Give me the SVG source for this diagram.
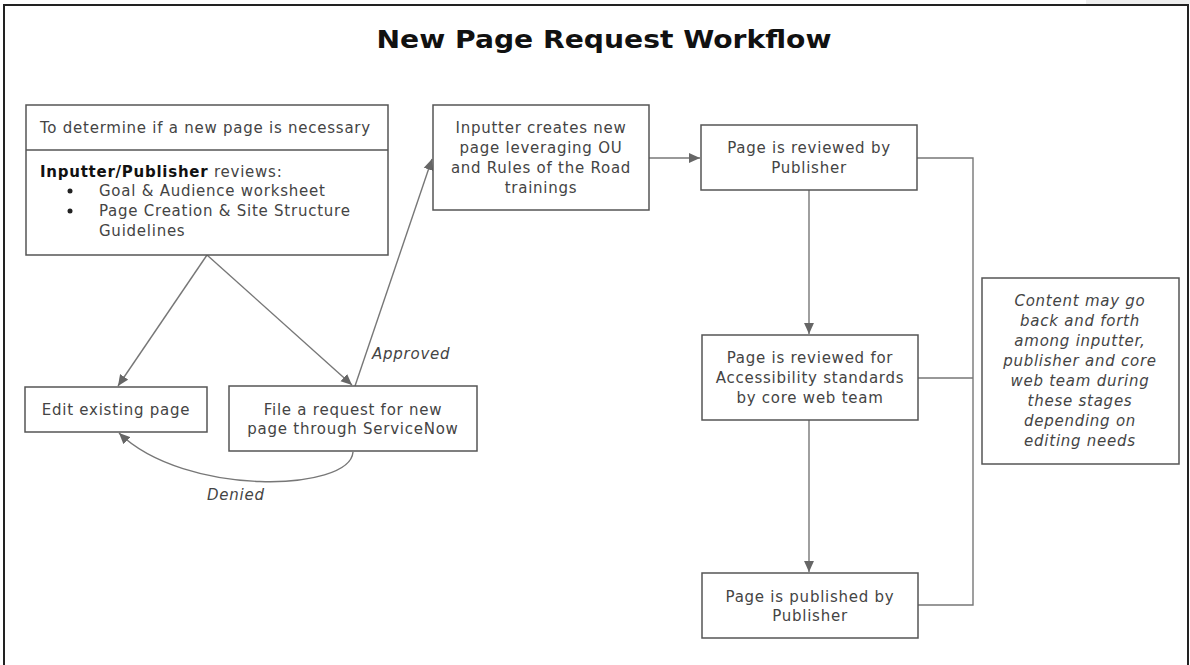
<svg xmlns="http://www.w3.org/2000/svg" width="1190" height="665" viewBox="0 0 1190 665">
<defs>
<style>
.box{fill:#fff;stroke:#555;stroke-width:1.5}
.t{font-family:"DejaVu Sans","Liberation Sans",sans-serif;font-size:15px;fill:#444;letter-spacing:0.75px}
.c{text-anchor:middle}
.i{font-style:italic}
.conn{fill:none;stroke:#777;stroke-width:1.4}
.arr{marker-end:url(#ah)}
</style>
<marker id="ah" viewBox="0 0 10 10" refX="10" refY="5" markerWidth="11" markerHeight="11" markerUnits="userSpaceOnUse" orient="auto">
<path d="M0,0.5 L10,5 L0,9.5 Z" fill="#666"/>
</marker>
</defs>
<rect x="0" y="0" width="1190" height="665" fill="#fff"/>
<rect x="1086" y="0" width="104" height="4" fill="#eee"/>
<path d="M4,666 V5 H1188 V666" fill="none" stroke="#222" stroke-width="2"/>
<text x="604" y="48" text-anchor="middle" font-family="DejaVu Sans, Liberation Sans, sans-serif" font-weight="bold" font-size="25" fill="#111" textLength="455" lengthAdjust="spacingAndGlyphs">New Page Request Workflow</text>

<g id="connectors">
<line class="conn arr" x1="207" y1="255" x2="118" y2="386"/>
<line class="conn arr" x1="207" y1="255" x2="352" y2="385"/>
<line class="conn arr" x1="355" y1="386" x2="432" y2="159"/>
<line class="conn arr" x1="649" y1="158" x2="700" y2="158"/>
<line class="conn arr" x1="809" y1="190" x2="809" y2="334"/>
<line class="conn arr" x1="809" y1="420" x2="809" y2="572"/>
<path class="conn arr" d="M353,452 C350,492 185,497 119,433"/>
<path class="conn" d="M917,158 H973 V605 H918 M918,378 H973"/>
<text class="t i" x="372" y="359">Approved</text>
<text class="t i" x="207" y="500">Denied</text>
</g>

<g id="node-determine">
<rect class="box" x="26" y="105" width="362" height="150"/>
<line x1="26" y1="150" x2="388" y2="150" stroke="#555" stroke-width="1.5"/>
<text class="t" x="40" y="133">To determine if a new page is necessary</text>
<text class="t" x="40" y="177"><tspan font-weight="bold" fill="#111">Inputter/Publisher</tspan> reviews:</text>
<circle cx="70" cy="191" r="2.5" fill="#222"/>
<text class="t" x="99" y="196">Goal &amp; Audience worksheet</text>
<circle cx="70" cy="211" r="2.5" fill="#222"/>
<text class="t" x="99" y="216">Page Creation &amp; Site Structure</text>
<text class="t" x="99" y="236">Guidelines</text>
</g>

<g id="node-edit">
<rect class="box" x="25" y="387" width="182" height="45"/>
<text class="t c" x="116" y="415">Edit existing page</text>
</g>

<g id="node-request">
<rect class="box" x="229" y="386" width="248" height="65"/>
<text class="t c" x="353" y="415">File a request for new</text>
<text class="t c" x="353" y="434">page through ServiceNow</text>
</g>

<g id="node-inputter">
<rect class="box" x="433" y="105" width="216" height="105"/>
<text class="t c" x="541" y="133">Inputter creates new</text>
<text class="t c" x="541" y="153">page leveraging OU</text>
<text class="t c" x="541" y="173">and Rules of the Road</text>
<text class="t c" x="541" y="193">trainings</text>
</g>

<g id="node-review-publisher">
<rect class="box" x="701" y="125" width="216" height="65"/>
<text class="t c" x="809" y="153">Page is reviewed by</text>
<text class="t c" x="809" y="173">Publisher</text>
</g>

<g id="node-accessibility">
<rect class="box" x="702" y="335" width="216" height="85"/>
<text class="t c" x="810" y="363">Page is reviewed for</text>
<text class="t c" x="810" y="383">Accessibility standards</text>
<text class="t c" x="810" y="403">by core web team</text>
</g>

<g id="node-published">
<rect class="box" x="702" y="573" width="216" height="65"/>
<text class="t c" x="810" y="602">Page is published by</text>
<text class="t c" x="810" y="621">Publisher</text>
</g>

<g id="node-note">
<rect class="box" x="982" y="278" width="197" height="186"/>
<text class="t c i" x="1080" y="306">Content may go</text>
<text class="t c i" x="1080" y="326">back and forth</text>
<text class="t c i" x="1080" y="346">among inputter,</text>
<text class="t c i" x="1080" y="366">publisher and core</text>
<text class="t c i" x="1080" y="386">web team during</text>
<text class="t c i" x="1080" y="406">these stages</text>
<text class="t c i" x="1080" y="426">depending on</text>
<text class="t c i" x="1080" y="446">editing needs</text>
</g>
</svg>
